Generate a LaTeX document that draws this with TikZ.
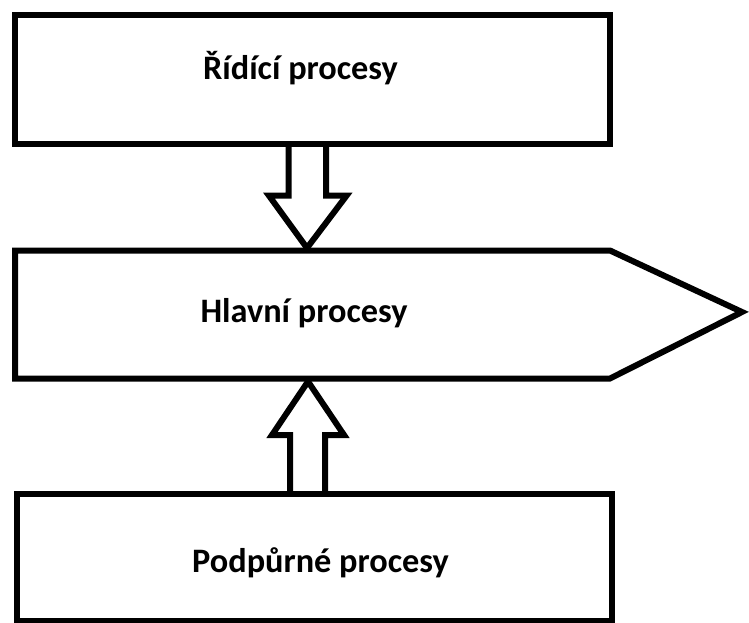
\documentclass[tikz,border=0pt]{standalone}
\usepackage{fontspec}
\setsansfont{Carlito}
\tikzset{
  blockline/.style={line width=6pt, line join=miter},
  boxlabel/.style={anchor=base, font=\sffamily\bfseries\fontsize{34.3}{40}\selectfont}
}

\begin{document}
\begin{tikzpicture}[x=1pt,y=-1pt]
  \useasboundingbox (0,0) rectangle (749,622);

  % boxes
  \draw[blockline] (15,15) rectangle (609.5,143.5);
  \draw[blockline] (15,250.5) -- (610,250.5) -- (742,312) -- (610,378.5) -- (15,378.5) -- cycle;
  \draw[blockline] (17,494) rectangle (612,621);

  % block arrows
  \draw[blockline] (288.5,143.5) -- (288.5,195.7) -- (269,195.7) -- (307,248)
                   -- (346.5,195.7) -- (326,195.7) -- (326,143.5);
  \draw[blockline] (290,494) -- (290,435) -- (272,435) -- (308,381.5)
                   -- (344,435) -- (325,435) -- (325,494);

  % labels
  \node[boxlabel] (ridici) at (300.5,79) {Řídící procesy};
  \node[boxlabel] (hlavni) at (304,322.7) {Hlavní procesy};
  \node[boxlabel] (podpurne) at (320.5,572.7) {Podpůrné procesy};
\end{tikzpicture}
\end{document}
